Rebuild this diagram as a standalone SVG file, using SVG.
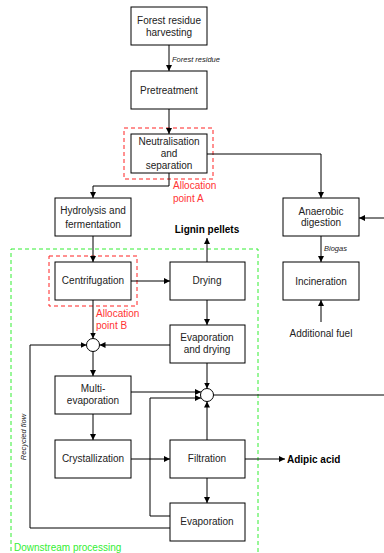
<svg xmlns="http://www.w3.org/2000/svg" width="384" height="553" viewBox="0 0 384 553">
<defs>
<marker id="ah" viewBox="0 0 10 10" refX="10" refY="5" markerWidth="6" markerHeight="6" markerUnits="userSpaceOnUse" orient="auto">
<path d="M0,0 L10,5 L0,10 z" fill="#000"/>
</marker>
<style>
.box{fill:#fff;stroke:#000;stroke-width:1}
.t{font-family:"Liberation Sans",Arial,sans-serif;font-size:10px;fill:#222;text-anchor:middle}
.b{font-weight:bold;fill:#000}
.st{text-anchor:start}
.s{font-family:"Liberation Sans",Arial,sans-serif;font-size:7.5px;font-style:italic;fill:#222}
.red{font-family:"Liberation Sans",Arial,sans-serif;font-size:10px;fill:#ff3333}
.grn{font-family:"Liberation Sans",Arial,sans-serif;font-size:10px;fill:#33ee33}
.c{fill:none;stroke:#000;stroke-width:1}
.ca{fill:none;stroke:#000;stroke-width:1;marker-end:url(#ah)}
.rd{fill:none;stroke:#ff2222;stroke-width:1;stroke-dasharray:4,3}
.gd{fill:none;stroke:#33ee33;stroke-width:1;stroke-dasharray:4,3}
</style>
</defs>

<g id="zones">
<rect class="gd" x="11" y="249" width="247" height="310"/>
<text class="grn" x="14" y="551">Downstream processing</text>
<rect class="rd" x="124" y="128" width="89" height="51"/>
<text class="red" x="173" y="189">Allocation</text>
<text class="red" x="173" y="202">point A</text>
<rect class="rd" x="49" y="256" width="88" height="50"/>
<text class="red" x="96" y="317">Allocation</text>
<text class="red" x="96" y="329">point B</text>
</g>

<g id="connectors">
<path class="ca" d="M169,45 V71"/>
<path class="ca" d="M169,109 V134"/>
<path class="ca" d="M207,154 H321 V198"/>
<path class="ca" d="M169,173 V186 H93 V198"/>
<path class="ca" d="M384,218 H359"/>
<path class="ca" d="M321,236 V262"/>
<path class="ca" d="M321,322 V300"/>
<path class="ca" d="M93,236 V262"/>
<path class="ca" d="M131,281 H170"/>
<path class="ca" d="M207,262 V238"/>
<path class="ca" d="M93,300 V338.5"/>
<path class="ca" d="M207,300 V325"/>
<path class="ca" d="M170,345 H99.5"/>
<path class="ca" d="M170,528 H30 V345 H86.5"/>
<path class="ca" d="M93,351.5 V376"/>
<path class="ca" d="M207,363 V388.5"/>
<path class="ca" d="M131,392 H201"/>
<path class="ca" d="M170,516 H150 V398 H201"/>
<path class="ca" d="M207,440 V401.5"/>
<path class="c" d="M213.5,395 H384"/>
<path class="ca" d="M93,414 V440"/>
<path class="ca" d="M131,459 H170"/>
<path class="ca" d="M207,478 V503"/>
<path class="ca" d="M245,459 H285"/>
<circle cx="93" cy="345" r="6.5" fill="#fff" stroke="#000"/>
<circle cx="207" cy="395" r="6.5" fill="#fff" stroke="#000"/>
<text class="s" x="172" y="62">Forest residue</text>
<text class="s" x="324" y="251">Biogas</text>
<text class="s" x="0" y="0" text-anchor="middle" transform="translate(26,437) rotate(-90)">Recycled flow</text>
<text class="t b" x="207" y="232.5">Lignin pellets</text>
<text class="t b st" x="287" y="462.5">Adipic acid</text>
<text class="t" x="321" y="336.5">Additional fuel</text>
</g>

<g id="harvesting">
<rect class="box" x="131" y="7" width="76" height="38"/>
<text class="t" x="169" y="24">Forest residue</text>
<text class="t" x="169" y="36">harvesting</text>
</g>
<g id="pretreatment">
<rect class="box" x="131" y="71" width="76" height="38"/>
<text class="t" x="169" y="93.5">Pretreatment</text>
</g>
<g id="neutralisation">
<rect class="box" x="131" y="134" width="76" height="39"/>
<text class="t" x="169" y="145">Neutralisation</text>
<text class="t" x="169" y="157">and</text>
<text class="t" x="169" y="169">separation</text>
</g>
<g id="hydrolysis">
<rect class="box" x="55" y="198" width="76" height="38"/>
<text class="t" x="93" y="214">Hydrolysis and</text>
<text class="t" x="93" y="227.5">fermentation</text>
</g>
<g id="anaerobic">
<rect class="box" x="283" y="198" width="76" height="38"/>
<text class="t" x="321" y="215">Anaerobic</text>
<text class="t" x="321" y="226">digestion</text>
</g>
<g id="incineration">
<rect class="box" x="283" y="262" width="76" height="38"/>
<text class="t" x="321" y="285">Incineration</text>
</g>
<g id="centrifugation">
<rect class="box" x="55" y="262" width="76" height="38"/>
<text class="t" x="93" y="284">Centrifugation</text>
</g>
<g id="drying">
<rect class="box" x="170" y="262" width="75" height="38"/>
<text class="t" x="207" y="284">Drying</text>
</g>
<g id="evapdrying">
<rect class="box" x="170" y="325" width="75" height="38"/>
<text class="t" x="207" y="341">Evaporation</text>
<text class="t" x="207" y="353">and drying</text>
</g>
<g id="multievap">
<rect class="box" x="55" y="376" width="76" height="38"/>
<text class="t" x="93" y="392">Multi-</text>
<text class="t" x="93" y="404">evaporation</text>
</g>
<g id="crystallization">
<rect class="box" x="55" y="440" width="76" height="38"/>
<text class="t" x="93" y="462">Crystallization</text>
</g>
<g id="filtration">
<rect class="box" x="170" y="440" width="75" height="38"/>
<text class="t" x="207" y="462">Filtration</text>
</g>
<g id="evaporation">
<rect class="box" x="170" y="503" width="75" height="38"/>
<text class="t" x="207" y="525">Evaporation</text>
</g>
</svg>
